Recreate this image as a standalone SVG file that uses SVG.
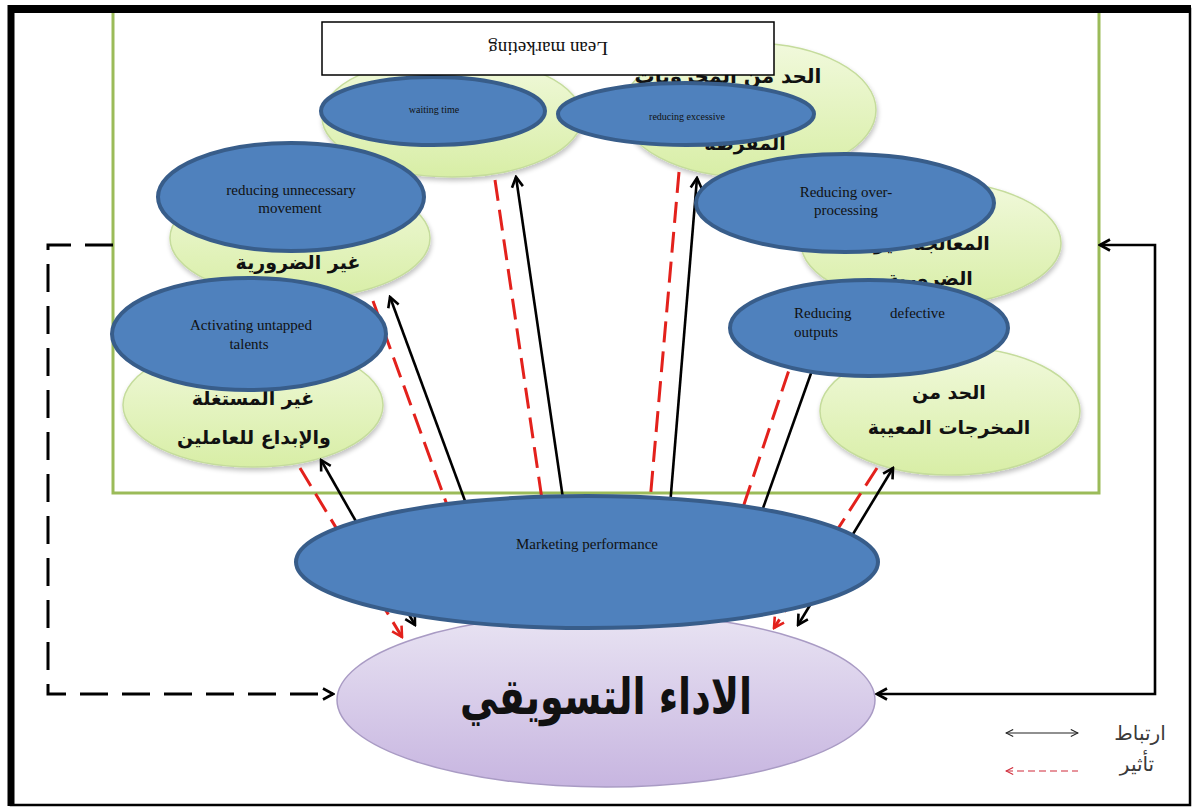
<svg xmlns="http://www.w3.org/2000/svg" width="1196" height="809" viewBox="0 0 1196 809">
<defs>
<linearGradient id="gG" x1="0" y1="0" x2="0" y2="1">
<stop offset="0" stop-color="#f1f9dc"/>
<stop offset="1" stop-color="#d8eea6"/>
</linearGradient>
<linearGradient id="pG" x1="0" y1="0" x2="0" y2="1">
<stop offset="0" stop-color="#e9e4f3"/>
<stop offset="1" stop-color="#c7b5e0"/>
</linearGradient>
<filter id="sh" x="-10%" y="-10%" width="125%" height="130%">
<feGaussianBlur in="SourceAlpha" stdDeviation="2.5"/>
<feOffset dx="1" dy="3" result="b"/>
<feComponentTransfer><feFuncA type="linear" slope="0.25"/></feComponentTransfer>
<feMerge><feMergeNode/><feMergeNode in="SourceGraphic"/></feMerge>
</filter>
<marker id="ab" viewBox="0 0 14 14" refX="12" refY="7" markerWidth="14" markerHeight="14" markerUnits="userSpaceOnUse" orient="auto-start-reverse">
<path d="M2,1.5 L12,7 L2,12.5" fill="none" stroke="#000" stroke-width="2.6"/>
</marker>
<marker id="ar" viewBox="0 0 14 14" refX="12" refY="7" markerWidth="14" markerHeight="14" markerUnits="userSpaceOnUse" orient="auto">
<path d="M2,1.5 L12,7 L2,12.5" fill="none" stroke="#e3211c" stroke-width="2.6"/>
</marker>
<marker id="lb" viewBox="0 0 10 10" refX="9" refY="5" markerWidth="9" markerHeight="9" markerUnits="userSpaceOnUse" orient="auto-start-reverse">
<path d="M1,1 L9,5 L1,9" fill="none" stroke="#222" stroke-width="1.2"/>
</marker>
<marker id="lr" viewBox="0 0 10 10" refX="9" refY="5" markerWidth="9" markerHeight="9" markerUnits="userSpaceOnUse" orient="auto-start-reverse">
<path d="M1,1 L9,5 L1,9" fill="none" stroke="#d02b3a" stroke-width="1.2"/>
</marker>
<style>
.ge{fill:url(#gG);stroke:#c5dc9c;stroke-width:1.5;filter:url(#sh)}
.be{fill:#4f81bd;stroke:#385d8a;stroke-width:4}
.ar{font-family:"DejaVu Sans",sans-serif;font-weight:bold;font-size:19px;fill:#111;text-anchor:middle}
.en{font-family:"Liberation Serif",serif;font-size:15px;fill:#111;text-anchor:middle}
.sm{font-size:10px}
.bl{fill:none;stroke:#000;stroke-width:2.6}
.rd{fill:none;stroke:#e3211c;stroke-width:3;stroke-dasharray:21 9}
.lg{font-family:"DejaVu Sans",sans-serif;font-size:20px;fill:#3a3a3a;text-anchor:middle}
</style>
</defs>
<rect x="0" y="0" width="1196" height="809" fill="#fff"/>
<g id="lean-box-frame">
<rect x="113" y="9" width="986" height="484" fill="none" stroke="#9bbb59" stroke-width="3"/>
</g>
<g id="frame">
<rect x="11" y="9" width="1179" height="796" fill="none" stroke="#000" stroke-width="2.5"/>
<line x1="8" y1="9" x2="1191" y2="9" stroke="#000" stroke-width="8"/>
<line x1="11" y1="5" x2="11" y2="806" stroke="#000" stroke-width="7"/>
</g>
<g id="green-waiting"><ellipse class="ge" cx="452" cy="117" rx="130" ry="60"/></g>
<g id="green-excessive"><ellipse class="ge" cx="749" cy="110" rx="127" ry="67"/>
<text class="ar" x="728" y="83" style="font-size:20px">الحد من المخزونات</text>
<text class="ar" x="745" y="150">المفرطة</text></g>
<g id="green-movement"><ellipse class="ge" cx="300" cy="238" rx="130" ry="60"/>
<text class="ar" x="298" y="269">غير الضرورية</text></g>
<g id="green-overprocessing"><ellipse class="ge" cx="931" cy="243" rx="130" ry="62"/>
<text class="ar" x="932" y="250">المعالجة غير</text>
<text class="ar" x="930" y="285">الضرورية</text></g>
<g id="green-talents"><ellipse class="ge" cx="253" cy="405" rx="130" ry="62"/>
<text class="ar" x="253" y="405">غير المستغلة</text>
<text class="ar" x="254" y="444">والإبداع للعاملين</text></g>
<g id="green-defective"><ellipse class="ge" cx="950" cy="411" rx="130" ry="64"/>
<text class="ar" x="949" y="399">الحد من</text>
<text class="ar" x="949" y="434">المخرجات المعيبة</text></g>
<g id="purple-node"><ellipse cx="606" cy="700" rx="269" ry="87" fill="url(#pG)" stroke="#a99bc4" stroke-width="1.5"/>
<text x="606" y="714" textLength="292" lengthAdjust="spacingAndGlyphs" style="font-family:'DejaVu Sans',sans-serif;font-weight:bold;font-size:50px;fill:#111;text-anchor:middle">الاداء التسويقي</text></g>
<g id="connectors">
<path d="M113,245 H48 V694 H333" fill="none" stroke="#000" stroke-width="3" stroke-dasharray="28 14" marker-end="url(#ab)"/>
<path d="M1100,245 H1155 V694 H877" class="bl" marker-start="url(#ab)" marker-end="url(#ab)"/>
<line class="bl" x1="321" y1="460" x2="415" y2="625" marker-start="url(#ab)" marker-end="url(#ab)"/>
<line class="rd" x1="300" y1="468" x2="402" y2="637" marker-end="url(#ar)"/>
<line class="bl" x1="390" y1="297" x2="507" y2="615" marker-start="url(#ab)"/>
<line class="rd" x1="373" y1="301" x2="487" y2="615"/>
<line class="bl" x1="516" y1="177" x2="580" y2="615" marker-start="url(#ab)"/>
<line class="rd" x1="495" y1="180" x2="559" y2="615"/>
<line class="bl" x1="697" y1="178" x2="661" y2="615" marker-start="url(#ab)"/>
<line class="rd" x1="679" y1="172" x2="640" y2="615"/>
<line class="bl" x1="820" y1="348" x2="725" y2="615"/>
<line class="rd" x1="798" y1="343" x2="707" y2="615"/>
<line class="bl" x1="893" y1="468" x2="798" y2="625" marker-start="url(#ab)" marker-end="url(#ab)"/>
<line class="rd" x1="877" y1="468" x2="774" y2="628" marker-end="url(#ar)"/>
</g>
<g id="blue-waiting"><ellipse class="be" cx="433" cy="111" rx="112" ry="34"/>
<text class="en sm" x="434" y="113">waiting time</text></g>
<g id="blue-excessive"><ellipse class="be" cx="686" cy="114" rx="128" ry="31"/>
<text class="en sm" x="687" y="120">reducing excessive</text></g>
<g id="blue-movement"><ellipse class="be" cx="291" cy="197" rx="133" ry="54"/>
<text class="en" x="291" y="195">reducing unnecessary</text>
<text class="en" x="290" y="213">movement</text></g>
<g id="blue-overprocessing"><ellipse class="be" cx="845" cy="203" rx="149" ry="49"/>
<text class="en" x="846" y="197">Reducing over-</text>
<text class="en" x="846" y="215">processing</text></g>
<g id="blue-talents"><ellipse class="be" cx="249" cy="334" rx="137" ry="56"/>
<text class="en" x="251" y="330">Activating untapped</text>
<text class="en" x="249" y="349">talents</text></g>
<g id="blue-defective"><ellipse class="be" cx="869" cy="328" rx="139" ry="48"/>
<text class="en" x="794" y="318" style="text-anchor:start">Reducing</text>
<text class="en" x="945" y="318" style="text-anchor:end">defective</text>
<text class="en" x="794" y="337" style="text-anchor:start">outputs</text></g>
<g id="blue-marketing"><ellipse class="be" cx="587" cy="562" rx="291" ry="66"/>
<text class="en" x="587" y="549">Marketing performance</text></g>
<g id="lean-title"><rect x="322" y="22" width="452" height="53" fill="#fff" stroke="#000" stroke-width="1.5"/>
<text x="548" y="48" dominant-baseline="central" transform="rotate(180 548 48)" style="font-family:'Liberation Serif',serif;font-size:19px;fill:#111;text-anchor:middle">Lean marketing</text></g>
<g id="legend">
<line x1="1006" y1="733" x2="1078" y2="733" stroke="#222" stroke-width="1.2" marker-start="url(#lb)" marker-end="url(#lb)"/>
<text class="lg" x="1140" y="740">ارتباط</text>
<line x1="1006" y1="771" x2="1078" y2="771" stroke="#d02b3a" stroke-width="1.2" stroke-dasharray="7 4" marker-start="url(#lr)"/>
<text class="lg" x="1137" y="771">تأثير</text>
</g>
</svg>
